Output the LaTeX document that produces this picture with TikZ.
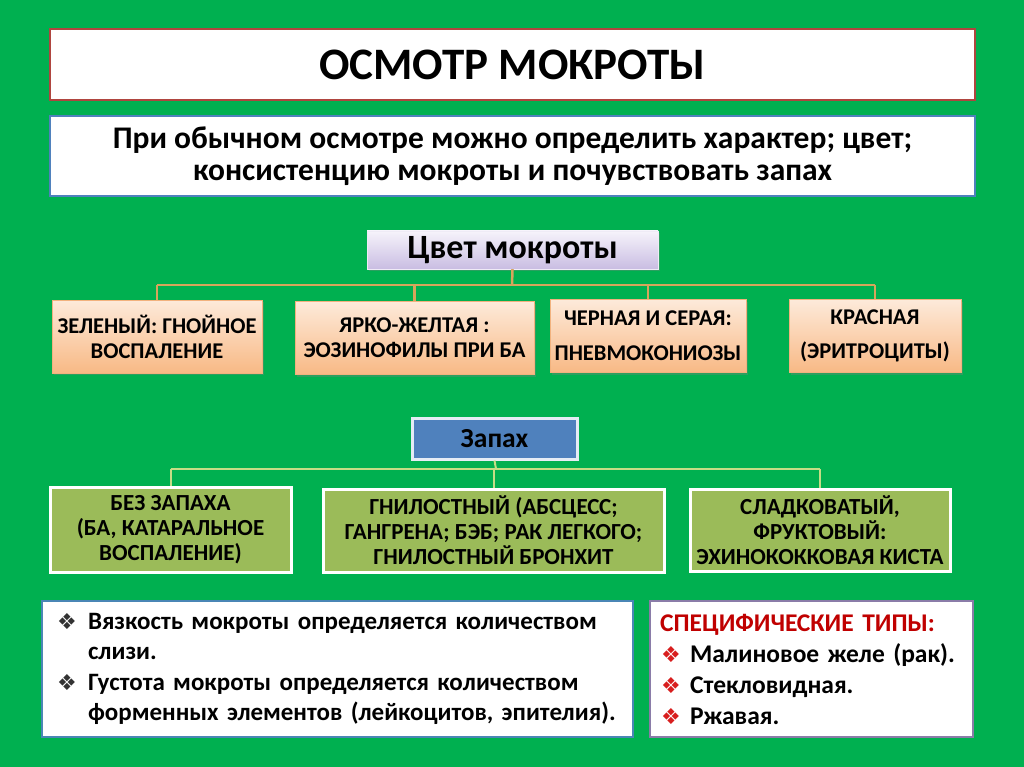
\documentclass[tikz,border=0pt]{standalone}
\usepackage{fontspec}
\setmainfont{Carlito}
\newfontfamily\symfont{DejaVu Sans}
\usetikzlibrary{shadows}

\definecolor{slidegreen}{HTML}{00B050}
\definecolor{titleedge}{HTML}{B0453F}
\definecolor{introedge}{HTML}{4F81BD}
\definecolor{lilactop}{HTML}{F6F3FB}
\definecolor{lilacbottom}{HTML}{C9BDE2}
\definecolor{peachtop}{HTML}{FDEADA}
\definecolor{peachbottom}{HTML}{F8B985}
\definecolor{peachedge}{HTML}{F2B27E}
\definecolor{tanlink}{HTML}{D8A55C}
\definecolor{smellblue}{HTML}{4F81BD}
\definecolor{olivefill}{HTML}{9BBB59}
\definecolor{limelink}{HTML}{C5DD86}
\definecolor{steeledge}{HTML}{4A86B5}
\definecolor{plumedge}{HTML}{8A7CA8}
\definecolor{headred}{HTML}{C00000}
\definecolor{bulletred}{HTML}{D81E1E}

\newcommand{\darkbul}{\makebox[31pt][l]{{\symfont\fontsize{22}{22}\selectfont\textcolor{black!80}{❖}}}}
\newcommand{\redbul}{\makebox[30pt][l]{\hspace*{1pt}{\symfont\fontsize{22}{22}\selectfont\textcolor{bulletred}{❖}}}}

\begin{document}
\begin{tikzpicture}[x=1pt,y=-1pt]
    \tikzset{every node/.style={align=center, inner sep=0pt},
        whitebox/.style={draw, fill=white, line width=1.5pt},
        shadowed/.style={drop shadow={opacity=0.35, shadow xshift=2pt, shadow yshift=-2pt}},
        colourbox/.style={draw=peachedge, top color=peachtop, bottom color=peachbottom,
            minimum height=73pt, shadowed, font=\bfseries\fontsize{22.5}{25}\selectfont},
        smellbox/.style={draw=white, line width=3pt, fill=olivefill,
            font=\bfseries\fontsize{23}{25}\selectfont},
        tanline/.style={draw=tanlink, line width=2.5pt},
        limeline/.style={draw=limelink, line width=2pt}}

    % background
    \fill[slidegreen] (0,0) rectangle (1024,767);

    % heading boxes
    \node[whitebox, draw=titleedge, minimum width=925pt, minimum height=71pt,
        font=\bfseries\fontsize{45}{50}\selectfont] (title) at (512.5,64.5) {ОСМОТР МОКРОТЫ};
    \node[whitebox, draw=introedge, minimum width=925pt, minimum height=80pt,
        font=\bfseries\fontsize{31.5}{32}\selectfont] (intro) at (512.5,156)
        {При обычном осмотре можно определить характер; цвет;\\
         консистенцию мокроты и почувствовать запах};

    % colour of sputum
    \node[draw=white!70!lilacbottom, top color=lilactop, bottom color=lilacbottom, shadowed,
        minimum width=291pt, minimum height=38pt,
        font=\bfseries\fontsize{34}{34}\selectfont] (colour) at (512.5,250) {Цвет мокроты};
    \node[colourbox, minimum width=210pt] (green) at (157,336.5)
        {ЗЕЛЕНЫЙ: ГНОЙНОЕ\\ВОСПАЛЕНИЕ};
    \node[colourbox, minimum width=239pt] (yellow) at (414.5,338)
        {ЯРКО-ЖЕЛТАЯ :\\ЭОЗИНОФИЛЫ ПРИ БА};
    \node[colourbox, minimum width=196pt] (black) at (648,336)
        {ЧЕРНАЯ И СЕРАЯ:\\[10pt]ПНЕВМОКОНИОЗЫ};
    \node[colourbox, minimum width=172pt] (red) at (875,336)
        {КРАСНАЯ\\[9pt](ЭРИТРОЦИТЫ)};

    \coordinate (cbar) at (512,285);
    \draw[tanline] (colour.south) -- (cbar);
    \draw[tanline] (cbar -| green.north) -- (cbar -| red.north);
    \foreach \b in {green,yellow,black,red}
        \draw[tanline] (cbar -| \b.north) -- (\b.north);

    % smell
    \node[draw=white!85!smellblue, line width=3pt, fill=smellblue, minimum width=165pt,
        minimum height=41pt, font=\bfseries\fontsize{27.5}{28}\selectfont] (smell) at (494.5,438.5) {Запах};
    \node[smellbox, minimum width=241pt, minimum height=85pt] (nosmell) at (170.5,529.5)
        {БЕЗ ЗАПАХА\\(БА, КАТАРАЛЬНОЕ\\ВОСПАЛЕНИЕ)};
    \node[smellbox, minimum width=341pt, minimum height=83pt] (putrid) at (493.5,530.5)
        {ГНИЛОСТНЫЙ (АБСЦЕСС;\\ГАНГРЕНА; БЭБ; РАК ЛЕГКОГО;\\ГНИЛОСТНЫЙ БРОНХИТ};
    \node[smellbox, minimum width=260pt, minimum height=82pt] (sweet) at (820,530)
        {СЛАДКОВАТЫЙ,\\ФРУКТОВЫЙ:\\ЭХИНОКОККОВАЯ КИСТА};

    \coordinate (sbar) at (496,469);
    \draw[limeline] (smell.south) -- (sbar);
    \draw[limeline] (sbar -| nosmell.north) -- (sbar -| sweet.north);
    \foreach \b in {nosmell,putrid,sweet}
        \draw[limeline] (sbar -| \b.north) -- (\b.north);

    % notes
    \node[whitebox, draw=steeledge, line width=2pt, minimum width=591pt, minimum height=136pt,
        inner xsep=15pt, text width=561pt, align=left,
        font=\bfseries\fontsize{25}{30.5}\selectfont] (viscosity) at (337.5,669)
        {\darkbul Вязкость мокроты определяется количеством\\
         \hspace*{31pt}слизи.\\
         \darkbul Густота мокроты определяется количеством\\
         \hspace*{31pt}форменных элементов (лейкоцитов, эпителия).};
    \node[whitebox, draw=plumedge, line width=2pt, minimum width=323pt, minimum height=136pt,
        inner xsep=10pt, text width=303pt, align=left,
        font=\bfseries\fontsize{25.5}{31}\selectfont] (specific) at (811.5,669)
        {\textcolor{headred}{СПЕЦИФИЧЕСКИЕ ТИПЫ:}\\
         \redbul Малиновое желе (рак).\\
         \redbul Стекловидная.\\
         \redbul Ржавая.};
\end{tikzpicture}
\end{document}
